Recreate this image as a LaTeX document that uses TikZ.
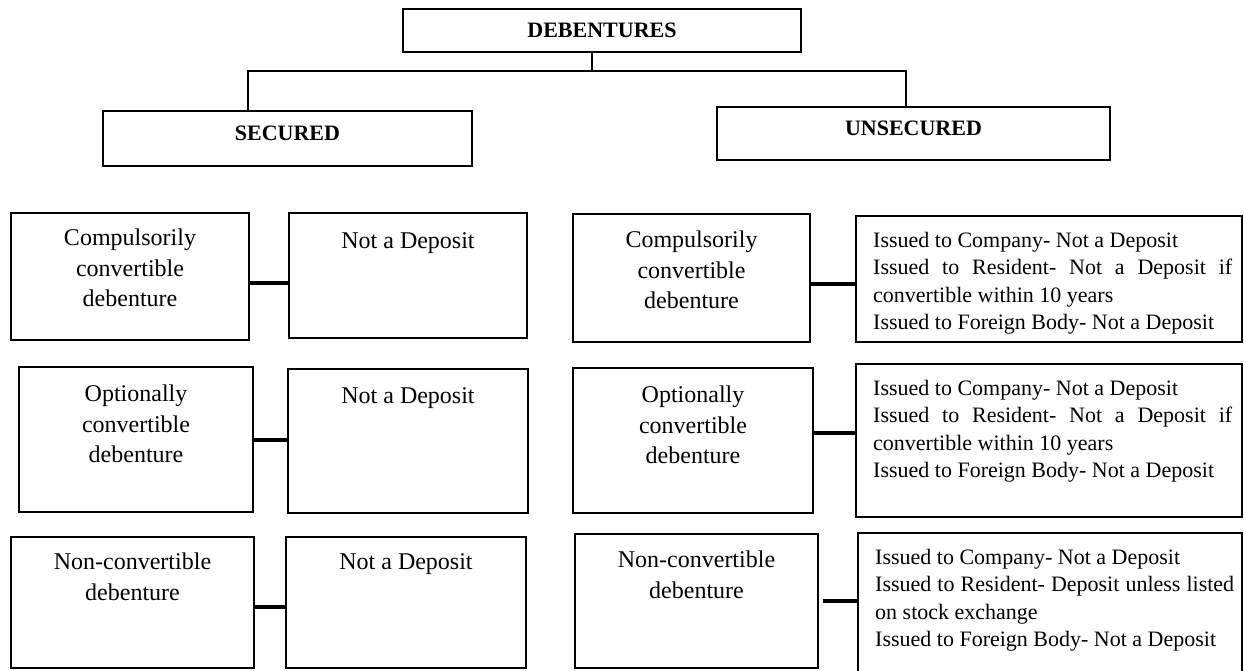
\documentclass[tikz,border=0pt]{standalone}
\usepackage{fontspec}
\setmainfont{Liberation Serif}
\begin{document}
\begin{tikzpicture}[x=1pt,y=-1pt,
  box/.style={draw, line width=1.8pt, inner sep=0pt, outer sep=0pt},
  hdr/.style={font=\fontsize{22}{26}\selectfont\bfseries, inner sep=0pt, anchor=center},
  ltxt/.style={font=\fontsize{24}{30.5}\selectfont, align=center, inner sep=0pt, anchor=north},
  rtxt/.style={font=\fontsize{22}{27.5}\selectfont, text width=359pt, align=justify, inner sep=0pt, anchor=north west, xshift=17pt, yshift=-16pt},
  tree/.style={line width=2.6pt},
  link/.style={line width=3.2pt}]
\clip (0,0) rectangle (1244,670);
\fill[white] (0,0) rectangle (1244,670);

% top level
\node[box, minimum width=398pt, minimum height=43pt,
  label={[hdr]center:DEBENTURES}] (deb) at (602,30.5) {};
\node[box, minimum width=369pt, minimum height=55pt,
  label={[hdr,yshift=5.5pt]center:SECURED}] (sec) at (287.5,138.5) {};
\node[box, minimum width=393pt, minimum height=53pt,
  label={[hdr,yshift=5.5pt]center:UNSECURED}] (uns) at (913.5,133.5) {};

\coordinate (bar) at (592,71);
\draw[tree] ([xshift=-10pt]deb.south) -- (bar);
\draw[tree] ([xshift=-39.5pt]sec.north) |- (bar) -| ([xshift=-7.5pt]uns.north);

% secured column
\node[box, minimum width=238pt, minimum height=127pt,
  label={[ltxt,yshift=-16pt]north:Compulsorily\\convertible\\debenture}] (L1a) at (130,276.5) {};
\node[box, minimum width=238pt, minimum height=125pt,
  label={[ltxt,yshift=-19pt]north:Not a Deposit}] (L1b) at (408,275.5) {};
\node[box, minimum width=234pt, minimum height=145pt,
  label={[ltxt,yshift=-18pt]north:Optionally\\convertible\\debenture}] (L2a) at (136,439.5) {};
\node[box, minimum width=240pt, minimum height=144pt,
  label={[ltxt,yshift=-18pt]north:Not a Deposit}] (L2b) at (408,441) {};
\node[box, minimum width=243pt, minimum height=131pt,
  label={[ltxt,yshift=-16pt]north:Non-convertible\\debenture}] (L3a) at (132.5,602.5) {};
\node[box, minimum width=240pt, minimum height=131pt,
  label={[ltxt,yshift=-16pt]north:Not a Deposit}] (L3b) at (406,602.5) {};

\draw[link] ([yshift=-6.5pt]L1a.east) -- ([yshift=-6.5pt]L1a.east -| L1b.west);
\draw[link] ([yshift=-0.5pt]L2a.east) -- ([yshift=-0.5pt]L2a.east -| L2b.west);
\draw[link] ([yshift=-4.5pt]L3a.east) -- ([yshift=-4.5pt]L3a.east -| L3b.west);

% unsecured column
\node[box, minimum width=237pt, minimum height=128pt,
  label={[ltxt,yshift=-17pt]north:Compulsorily\\convertible\\debenture}] (R1a) at (691.5,278) {};
\node[box, minimum width=386pt, minimum height=126pt,
  label={[rtxt]north west:Issued to Company- Not a Deposit\\Issued to Resident- Not a Deposit if\linebreak convertible within 10 years\\Issued to Foreign Body- Not a Deposit}] (R1b) at (1049,279) {};
\node[box, minimum width=240pt, minimum height=145pt,
  label={[ltxt,yshift=-18pt]north:Optionally\\convertible\\debenture}] (R2a) at (693,440.5) {};
\node[box, minimum width=386pt, minimum height=153pt,
  label={[rtxt]north west:Issued to Company- Not a Deposit\\Issued to Resident- Not a Deposit if\linebreak convertible within 10 years\\Issued to Foreign Body- Not a Deposit}] (R2b) at (1049,440.5) {};
\node[box, minimum width=243pt, minimum height=134pt,
  label={[ltxt,yshift=-17pt]north:Non-convertible\\debenture}] (R3a) at (696.5,601) {};
\node[box, minimum width=384pt, minimum height=157pt,
  label={[rtxt]north west:Issued to Company- Not a Deposit\\Issued to Resident- Deposit unless listed\linebreak on stock exchange\\Issued to Foreign Body- Not a Deposit}] (R3b) at (1050,611.5) {};

\draw[link] ([yshift=-6pt]R1a.east) -- ([yshift=-6pt]R1a.east -| R1b.west);
\draw[link] ([yshift=7.5pt]R2a.east) -- ([yshift=7.5pt]R2a.east -| R2b.west);
\draw[link] ([xshift=5pt]R3a.east) -- (R3a.east -| R3b.west);
\end{tikzpicture}
\end{document}
